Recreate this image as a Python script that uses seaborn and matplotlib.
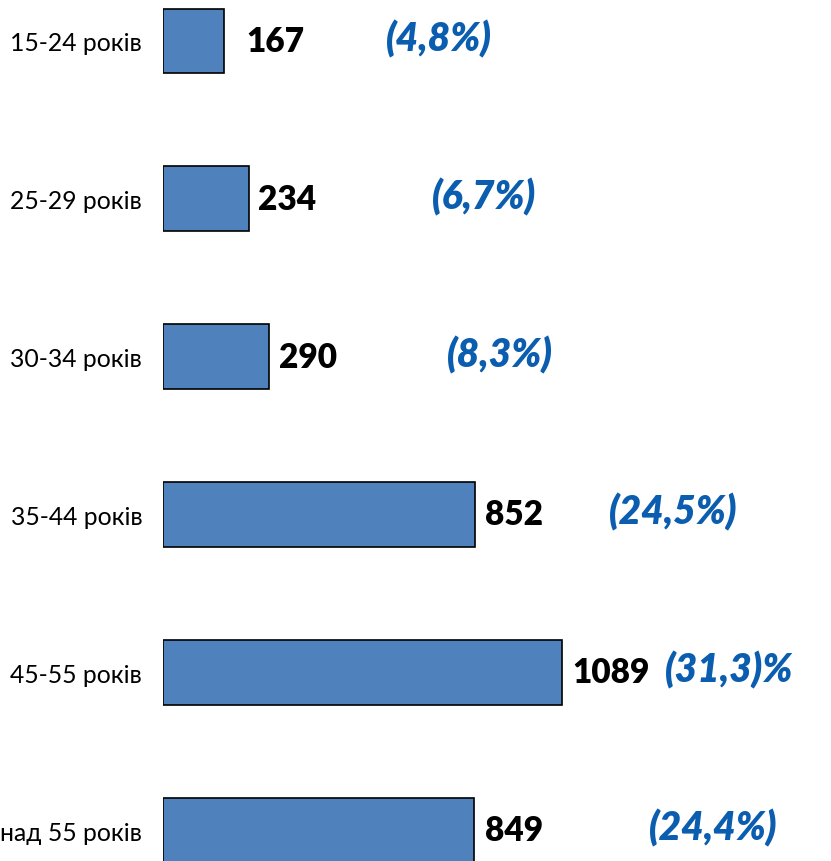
import matplotlib
matplotlib.use("Agg")
import matplotlib.pyplot as plt
import seaborn as sns
import pandas as pd

# donnees
groupes = ["15-24 років", "25-29 років", "30-34 років", "35-44 років", "45-55 років", "над 55 років"]
valeurs = [167, 234, 290, 852, 1089, 849]
parts = ["(4,8%)", "(6,7%)", "(8,3%)", "(24,5%)", "(31,3)%", "(24,4%)"]

# mise en page des textes
pad_valeurs = [16, 7, 7, 7, 8, 8]          # points
x_parts = [609, 735, 776, 1219, 1372, 1328]  # unites de l'axe

df = pd.DataFrame({"groupe": groupes, "valeur": valeurs})

sns.set_theme(style="white")
plt.rcParams["font.family"] = ["Lato", "DejaVu Sans"]

fig = plt.figure(figsize=(8.31, 8.62), dpi=100)
ax = fig.add_axes([163 / 831, 0, 1 - 163 / 831, 1])

sns.barplot(data=df, x="valeur", y="groupe", orient="h", color="#4F81BD",
            saturation=1, width=0.41, edgecolor="black", linewidth=1.2, ax=ax)

ax.set_xlim(0, 668 / 0.366)
ax.set_ylim(5.196, -0.266)
sns.despine(ax=ax, left=True, bottom=True)
ax.set_xticks([])
ax.set_xlabel("")
ax.set_ylabel("")
ax.tick_params(axis="y", length=0, pad=15, labelsize=17.8, labelcolor="black")

for i, v in enumerate(valeurs):
    ax.annotate(str(v), (v, i), xytext=(pad_valeurs[i], 0), textcoords="offset points",
                ha="left", va="center", fontsize=24, fontweight="heavy", color="black")
    ax.annotate(parts[i], (x_parts[i], i), xytext=(0, 2), textcoords="offset points",
                ha="left", va="center", fontsize=28, fontweight="heavy", fontstyle="italic",
                color="#0B5DAF")

fig.savefig("out.png", dpi=100)
